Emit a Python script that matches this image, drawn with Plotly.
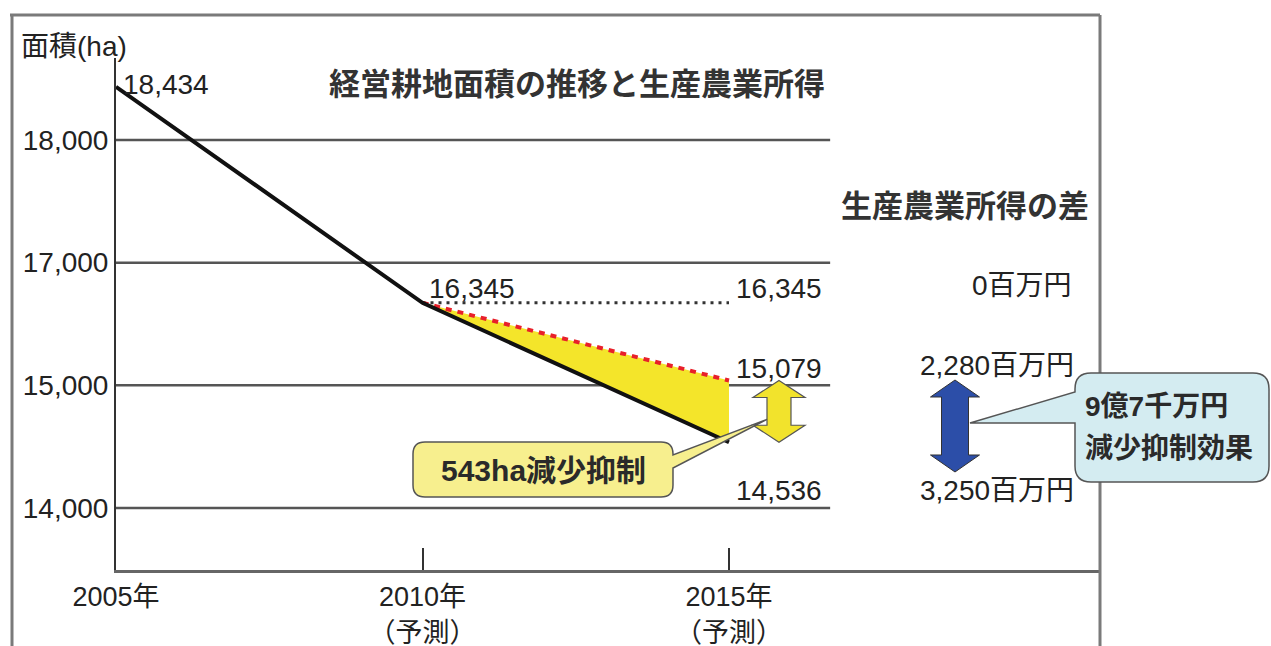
import plotly.graph_objects as go

# ---------------- data ----------------
years = [2005, 2010, 2015]
area_trend = [18434, 16345, 14536]          # 経営耕地面積（推移・予測）
area_flat = [16345, 16345]                  # 2010年水準のまま (2010, 2015)
area_suppressed = [16345, 15079]            # 減少抑制した場合 (2010, 2015)
ytick_vals = [14000, 15000, 17000, 18000]
ytick_text = ["14,000", "15,000", "17,000", "18,000"]
xtick_text = ["2005年", "2010年<br>（予測）", "2015年<br>（予測）"]
income_labels = ["0百万円", "2,280百万円", "3,250百万円"]
suppress_area_text = "543ha減少抑制"
suppress_income_text = ["9億7千万円", "減少抑制効果"]

# ---------------- geometry helpers ----------------
W, H = 1271, 646
AX_L, AX_R, AX_T, AX_B = 116, 1100, 58, 570
PX_PER_YEAR = 61.3
PX_PER_UNIT = 122.67
XR = [2005, 2005 + (AX_R - AX_L) / PX_PER_YEAR]
YR = [-(AX_B - 508) / PX_PER_UNIT, 3 + (140 - AX_T) / PX_PER_UNIT]

# broken (piecewise linear) y scale used by the original chart
BREAKS = [(14000, 0.0), (15000, 1.0), (17000, 2.0), (18000, 3.0)]


def ty(v):
    if v <= BREAKS[0][0]:
        return (v - BREAKS[0][0]) / 1000.0
    for (a, ta), (b, tb) in zip(BREAKS[:-1], BREAKS[1:]):
        if v <= b:
            return ta + (v - a) / (b - a) * (tb - ta)
    return BREAKS[-1][1] + (v - BREAKS[-1][0]) / 1000.0


def py_of(v):
    t = ty(v)
    return AX_B - (t - YR[0]) / (YR[1] - YR[0]) * (AX_B - AX_T)


def px_of(year):
    return AX_L + (year - XR[0]) / (XR[1] - XR[0]) * (AX_R - AX_L)


def P(x, y):
    return x / W, 1 - y / H


def path(segs):
    out = []
    for cmd, *pts in segs:
        if cmd == "Z":
            out.append("Z")
            continue
        coords = []
        for (x, y) in pts:
            a, b = P(x, y)
            coords.append(f"{a:.5f},{b:.5f}")
        out.append(cmd + " " + " ".join(coords))
    return " ".join(out)


def rounded_box(x0, y0, x1, y1, r, pointer_side=None, pointer=None):
    """pointer: list of (x,y) points inserted on the given side."""
    segs = [("M", (x0 + r, y0)), ("L", (x1 - r, y0)), ("Q", (x1, y0), (x1, y0 + r))]
    if pointer_side == "right":
        for p in pointer:
            segs.append(("L", p))
    segs += [("L", (x1, y1 - r)), ("Q", (x1, y1), (x1 - r, y1)), ("L", (x0 + r, y1)),
             ("Q", (x0, y1), (x0, y1 - r))]
    if pointer_side == "left":
        for p in pointer:
            segs.append(("L", p))
    segs += [("L", (x0, y0 + r)), ("Q", (x0, y0), (x0 + r, y0)), ("Z",)]
    return path(segs)


def double_arrow(cx, ytop, ybot, head_w, shaft_w, head_h):
    hw, sw = head_w / 2, shaft_w / 2
    return path([
        ("M", (cx, ytop)), ("L", (cx + hw, ytop + head_h)), ("L", (cx + sw, ytop + head_h)),
        ("L", (cx + sw, ybot - head_h)), ("L", (cx + hw, ybot - head_h)), ("L", (cx, ybot)),
        ("L", (cx - hw, ybot - head_h)), ("L", (cx - sw, ybot - head_h)),
        ("L", (cx - sw, ytop + head_h)), ("L", (cx - hw, ytop + head_h)), ("Z",)])


FONT = "Liberation Sans, Noto Sans CJK JP"
TXT = "#222222"

fig = go.Figure()

# yellow wedge between trend and suppressed lines
fig.add_trace(go.Scatter(
    x=[years[1], years[2], years[2]],
    y=[ty(area_suppressed[0]), ty(area_suppressed[1]), ty(area_trend[2])],
    fill="toself", fillcolor="#F4E52A", mode="lines", line=dict(width=0),
    hoverinfo="skip", showlegend=False))

# dotted flat line at 2010 level
fig.add_trace(go.Scatter(
    x=years[1:], y=[ty(v) for v in area_flat], mode="lines",
    line=dict(color="#333333", width=3, dash="3px,5px"), hoverinfo="skip", showlegend=False))

# red dashed suppressed line
fig.add_trace(go.Scatter(
    x=years[1:], y=[ty(v) for v in area_suppressed], mode="lines",
    line=dict(color="#E8202A", width=4, dash="6px,6px"), hoverinfo="skip", showlegend=False))

# black trend line
fig.add_trace(go.Scatter(
    x=years, y=[ty(v) for v in area_trend], mode="lines",
    line=dict(color="#111111", width=4), hoverinfo="skip", showlegend=False))

shapes = []
# horizontal gridlines (end before the right-hand legend area)
for v in ytick_vals:
    shapes.append(dict(type="line", xref="x", yref="y", x0=XR[0], x1=2016.65, y0=ty(v), y1=ty(v),
                       line=dict(color="#555555", width=2.5), layer="below"))

# outer frame
for (x0, y0, x1, y1) in [(10, 15, 1100, 15), (12, 15, 12, 646), (1100, 15, 1100, 646)]:
    a0, b0 = P(x0, y0)
    a1, b1 = P(x1, y1)
    shapes.append(dict(type="line", xref="paper", yref="paper", x0=a0, y0=b0, x1=a1, y1=b1,
                       line=dict(color="#7a7a7a", width=3)))

# yellow double arrow (difference at 2015)
arr_cx = px_of(years[2]) + 50
y_top = py_of(area_suppressed[1])
y_bot = py_of(area_trend[2])
shapes.append(dict(type="path", xref="paper", yref="paper",
                   path=double_arrow(arr_cx, y_top, y_bot, 52, 24, 17),
                   fillcolor="#F2E32C", line=dict(color="#555555", width=1.2)))

# callout 543ha
tip_y = (y_top + y_bot) / 2 + 8
shapes.append(dict(type="path", xref="paper", yref="paper",
                   path=rounded_box(413, 442, 673, 497, 12, "right",
                                    [(673, 455), (arr_cx - 12, tip_y), (673, 468)]),
                   fillcolor="#F7EF8E", line=dict(color="#555555", width=1.5)))

# blue double arrow (income difference)
shapes.append(dict(type="path", xref="paper", yref="paper",
                   path=double_arrow(955, 380, 472, 49, 27, 17),
                   fillcolor="#2C4EA8", line=dict(color="#333333", width=1)))

# blue callout
shapes.append(dict(type="path", xref="paper", yref="paper",
                   path=rounded_box(1075, 373, 1269, 482, 16, "left",
                                    [(1075, 423), (970, 423), (1075, 392)]),
                   fillcolor="#D4ECF1", line=dict(color="#555555", width=1.5)))

ann = []


def add_text(text, x, y, xanchor="center", size=28, bold=False, color=TXT):
    a, b = P(x, y)
    ann.append(dict(text=f"<b>{text}</b>" if bold else text, x=a, y=b, xref="paper", yref="paper",
                    xanchor=xanchor, yanchor="middle", showarrow=False,
                    font=dict(family=FONT, size=size, color=color)))


add_text("面積(ha)", 19, 47, "left", 28)
add_text("経営耕地面積の推移と生産農業所得", 577, 85, "center", 31, bold=True, color="#333333")
add_text(f"{area_trend[0]:,}", 121, 85, "left", 28)
add_text(f"{area_flat[0]:,}", 427, 288, "left", 28)
add_text(f"{area_flat[1]:,}", 734, 288, "left", 28)
add_text(f"{area_suppressed[1]:,}", 734, 368, "left", 28)
add_text(f"{area_trend[2]:,}", 734, 490, "left", 28)
add_text("生産農業所得の差", 1091, 207, "right", 31, bold=True, color="#333333")
add_text(income_labels[0], 1074, 285, "right", 28)
add_text(income_labels[1], 1076, 365, "right", 28)
add_text(income_labels[2], 1076, 490, "right", 28)
add_text(suppress_area_text, 543, 470, "center", 30, bold=True, color="#2a2a2a")
add_text(suppress_income_text[0], 1083, 407, "left", 28, bold=True, color="#2a2a2a")
add_text(suppress_income_text[1], 1083, 448, "left", 28, bold=True, color="#2a2a2a")

fig.update_layout(
    template="none",
    width=W, height=H, margin=dict(l=0, r=0, t=0, b=0, pad=0, autoexpand=False),
    paper_bgcolor="white", plot_bgcolor="white", showlegend=False,
    shapes=shapes, annotations=ann,
    xaxis=dict(domain=[AX_L / W, AX_R / W], range=XR, tickvals=years, ticktext=xtick_text,
               ticks="inside", ticklen=22, tickwidth=2, tickcolor="#333333",
               showline=True, linecolor="#666666", linewidth=3, showgrid=False, zeroline=False,
               tickfont=dict(family=FONT, size=27, color=TXT), ticklabelstandoff=1,
               automargin=False, fixedrange=True),
    yaxis=dict(domain=[1 - AX_B / H, 1 - AX_T / H], range=YR,
               tickvals=[ty(v) for v in ytick_vals], ticktext=ytick_text,
               ticks="", showline=True, linecolor="#333333", linewidth=2,
               showgrid=False, zeroline=False,
               tickfont=dict(family=FONT, size=28, color=TXT), ticklabelstandoff=0,
               automargin=False, fixedrange=True),
)

fig.write_html("out.html", config={"displayModeBar": False},
               post_script="document.body.style.margin='0';")
